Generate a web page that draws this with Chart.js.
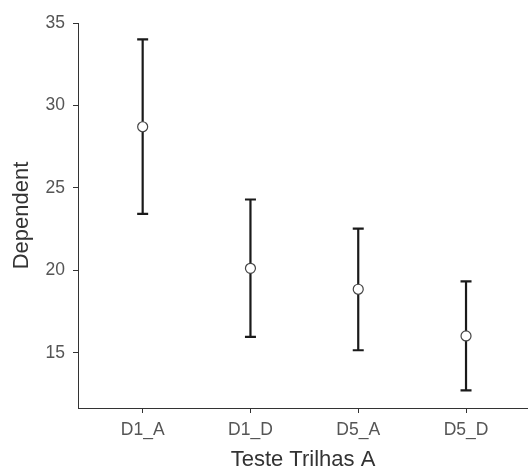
<!DOCTYPE html>
<html>
<head>
<meta charset="utf-8">
<script src="https://cdn.jsdelivr.net/npm/chart.js@4"></script>
<style>
  html, body { margin: 0; padding: 0; background: #fff; }
  #wrap { width: 528px; height: 470px; position: relative; }
</style>
</head>
<body>
<div id="wrap"><canvas id="chart"></canvas></div>
<script>
// Values
const categories = ['D1_A', 'D1_D', 'D5_A', 'D5_D'];
const means = [28.71, 20.13, 18.86, 16.03];
const upper = [34.01, 24.30, 22.54, 19.34];
const lower = [23.43, 15.97, 15.16, 12.73];
const yTicks = [15, 20, 25, 30, 35];

const AXIS_COLOR = '#333';
const TICK_FONT = { family: 'Liberation Sans, Arial, sans-serif', size: 17.5 };
const TITLE_FONT = { family: 'Liberation Sans, Arial, sans-serif', size: 22, lineHeight: 0.9 };

// Draw the error bars under the points, using the chart's own scales
const errorBars = {
    id: 'errorBars',
    beforeDatasetsDraw(chart) {
        const { ctx, scales: { x, y } } = chart;
        ctx.save();
        ctx.strokeStyle = '#1a1a1a';
        ctx.lineWidth = 2.2;
        categories.forEach((c, i) => {
            const px = x.getPixelForValue(i + 1);
            const top = y.getPixelForValue(upper[i]);
            const bot = y.getPixelForValue(lower[i]);
            ctx.beginPath();
            ctx.moveTo(px, top);
            ctx.lineTo(px, bot);
            ctx.moveTo(px - 5.5, top);
            ctx.lineTo(px + 5.5, top);
            ctx.moveTo(px - 5.5, bot);
            ctx.lineTo(px + 5.5, bot);
            ctx.stroke();
        });
        ctx.restore();
    }
};

new Chart(document.getElementById('chart'), {
    type: 'scatter',
    data: {
        datasets: [{
            data: means.map((m, i) => ({ x: i + 1, y: m })),
            pointRadius: 5,
            pointBackgroundColor: '#fff',
            pointBorderColor: '#444',
            pointBorderWidth: 1.2
        }]
    },
    options: {
        responsive: true,
        maintainAspectRatio: false,
        animation: false,
        layout: { autoPadding: false, padding: { top: 23, right: 0, left: 0, bottom: 0 } },
        plugins: { legend: { display: false }, tooltip: { enabled: false } },
        scales: {
            x: {
                type: 'linear',
                min: 0.4,
                max: 4.575,
                afterBuildTicks: (s) => { s.ticks = categories.map((c, i) => ({ value: i + 1 })); },
                afterFit: (s) => { s.height = 62; },
                grid: { drawOnChartArea: false, drawTicks: true, tickLength: 5, color: AXIS_COLOR },
                border: { display: true, color: AXIS_COLOR, width: 1 },
                ticks: {
                    color: '#555',
                    font: TICK_FONT,
                    padding: 7,
                    maxRotation: 0,
                    callback: (v) => categories[Math.round(v) - 1]
                },
                title: { display: true, text: 'Teste Trilhas A', color: '#333', font: TITLE_FONT, padding: { top: 0, bottom: 0 } }
            },
            y: {
                min: 11.66,
                max: 35,
                afterBuildTicks: (s) => { s.ticks = yTicks.map(v => ({ value: v })); },
                afterFit: (s) => { s.width = 78; },
                grid: { drawOnChartArea: false, drawTicks: true, tickLength: 5, color: AXIS_COLOR },
                border: { display: true, color: AXIS_COLOR, width: 1 },
                ticks: { color: '#555', font: TICK_FONT, padding: 8 },
                title: { display: true, text: 'Dependent', color: '#333', font: TITLE_FONT, padding: { top: 12, bottom: 0 } }
            }
        }
    },
    plugins: [errorBars]
});
</script>
</body>
</html>
